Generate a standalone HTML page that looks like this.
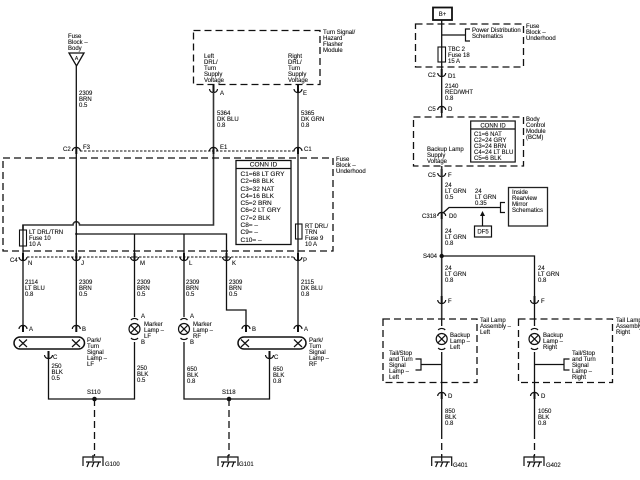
<!DOCTYPE html>
<html><head><meta charset="utf-8"><style>
html,body{margin:0;padding:0;background:#fff}
svg{display:block;filter:blur(.35px)}
text{font-family:"Liberation Sans",sans-serif;font-size:6px;fill:#111;stroke:#111;stroke-width:.12}
.b text{font-size:6.5px}
.w{fill:none;stroke:#111;stroke-width:1.3}
.g{fill:none;stroke:#333;stroke-width:1.6}
.t{fill:none;stroke:#111;stroke-width:1.3}
.d{fill:none;stroke:#111;stroke-width:1.3;stroke-dasharray:7 4}
.o{fill:none;stroke:#111;stroke-width:.9;stroke-dasharray:2.5 1.5}
.c{fill:none;stroke:#111;stroke-width:1.2}
</style></head><body>
<svg width="640" height="480" viewBox="0 0 640 480" xmlns="http://www.w3.org/2000/svg">
<defs>
<g id="cup" class="c"><path d="M-4-1A4 3.6 0 0 0 4-1"/><path d="M0-5V2" stroke-width="2"/></g>
<g id="arch" class="c"><path d="M-4 2A4 3.6 0 0 1 4 2"/><path d="M0-2V5" stroke-width="2"/></g>
<g id="lamp" class="c"><circle r="5.5" fill="#fff"/><path d="M-3.8-3.8L3.8 3.8M3.8-3.8L-3.8 3.8"/><path d="M-3.5-9A4 3 0 0 1 3.5-9M-3.5 9A4 3 0 0 0 3.5 9"/></g>
<g id="gnd" class="c"><path d="M-10 9V0H10V9" stroke-width="1.2"/><path d="M0-2V4M-7 5H8M-4 5L-6 10M1 5L-1 10M6 5L4 10"/></g>
</defs>

<!-- Left: Fuse Block - Body -->
<text x="68" y="38">Fuse</text><text x="68" y="44">Block –</text><text x="68" y="50">Body</text>
<path class="w" d="M69 53H84L76.5 66ZM76.3 66V150"/>
<text x="76" y="60" style="font-size:5px" text-anchor="middle" dx=".5">A</text>
<text x="79" y="95">2309</text><text x="79" y="101">BRN</text><text x="79" y="107">0.5</text>

<!-- Turn signal module -->
<rect class="d" x="193.5" y="30.5" width="126.5" height="54"/>
<text x="323" y="34">Turn Signal/</text><text x="323" y="40">Hazard</text><text x="323" y="46">Flasher</text><text x="323" y="52">Module</text>
<text x="204" y="58">Left</text><text x="204" y="64">DRL/</text><text x="204" y="70">Turn</text><text x="204" y="76">Supply</text><text x="204" y="82">Voltage</text>
<text x="288" y="58">Right</text><text x="288" y="64">DRL/</text><text x="288" y="70">Turn</text><text x="288" y="76">Supply</text><text x="288" y="82">Voltage</text>
<use href="#cup" x="213.5" y="90"/><use href="#cup" x="298" y="90"/>
<text x="220" y="95">A</text><text x="303" y="95">E</text>
<path class="g" d="M213.5 92V225H23V230"/>
<path class="t" d="M298 92V325"/>
<text x="217" y="115">5364</text><text x="217" y="121">DK BLU</text><text x="217" y="127">0.8</text>
<text x="301" y="115">5365</text><text x="301" y="121">DK GRN</text><text x="301" y="127">0.8</text>

<!-- C2 row -->
<path class="o" d="M80 151H295"/>
<use href="#arch" x="76.3" y="149"/><use href="#arch" x="213.5" y="149"/><use href="#arch" x="298" y="149"/>
<text x="63" y="151">C2</text><text x="83" y="149">F3</text><text x="220" y="149">E1</text><text x="304" y="151">C1</text>

<!-- Fuse block underhood -->
<rect class="d" x="3" y="158" width="330" height="93"/>
<text x="336" y="161">Fuse</text><text x="336" y="167">Block –</text><text x="336" y="173">Underhood</text>
<rect x="70" y="218" width="13" height="9" fill="#fff"/>
<path class="g" d="M70 225H73A3.3 3.3 0 0 1 79.6 225H83"/>
<path class="t" d="M76.3 150V325M76.3 234H226.5V310H246V326M134.5 234V317M184 234V317"/>
<circle cx="76.3" cy="234" r="1.2" fill="#111"/>
<path class="t" d="M23 225V325"/>
<rect x="19.5" y="230" width="7" height="16" fill="#fff" stroke="#111" stroke-width="1.1"/>
<path class="t" d="M23 230V246"/>
<text x="29" y="234">LT DRL/TRN</text><text x="29" y="240">Fuse 10</text><text x="29" y="246">10 A</text>
<rect x="295.5" y="224" width="6.5" height="15" fill="#fff" stroke="#111" stroke-width="1.1"/>
<path class="t" d="M298 224V239"/>
<text x="305" y="228">RT DRL/</text><text x="305" y="234">TRN</text><text x="305" y="240">Fuse 9</text><text x="305" y="246">10 A</text>

<rect x="236" y="160.5" width="55" height="84" fill="#fff" stroke="#111" stroke-width="1.3"/>
<path class="w" d="M236 168.5H291"/>
<g class="b">
<text x="263.5" y="166.5" text-anchor="middle">CONN ID</text>
<text x="240.5" y="176">C1=68 LT GRY</text><text x="240.5" y="183">C2=68 BLK</text><text x="240.5" y="191">C3=32 NAT</text><text x="240.5" y="198">C4=16 BLK</text><text x="240.5" y="205">C5=2 BRN</text><text x="240.5" y="212">C6=2 LT GRY</text><text x="240.5" y="220">C7=2 BLK</text><text x="240.5" y="227">C8= –</text><text x="240.5" y="234">C9= –</text><text x="240.5" y="242">C10= –</text>
</g>

<!-- C4 row -->
<path class="o" d="M27 257H295"/>
<use href="#cup" x="23" y="258"/><use href="#cup" x="76.3" y="258"/><use href="#cup" x="134.5" y="258"/><use href="#cup" x="184" y="258"/><use href="#cup" x="226.5" y="258"/><use href="#cup" x="298" y="258"/>
<text x="10" y="262">C4</text><text x="28" y="265">N</text><text x="81" y="265">J</text><text x="140" y="265">M</text><text x="189" y="265">L</text><text x="232" y="265">K</text><text x="303" y="262">P</text>

<text x="25" y="284">2114</text><text x="25" y="290">LT BLU</text><text x="25" y="296">0.8</text>
<text x="79" y="284">2309</text><text x="79" y="290">BRN</text><text x="79" y="296">0.5</text>
<text x="137" y="284">2309</text><text x="137" y="290">BRN</text><text x="137" y="296">0.5</text>
<text x="186" y="284">2309</text><text x="186" y="290">BRN</text><text x="186" y="296">0.5</text>
<text x="229" y="284">2309</text><text x="229" y="290">BRN</text><text x="229" y="296">0.5</text>
<text x="301" y="284">2115</text><text x="301" y="290">DK BLU</text><text x="301" y="296">0.8</text>

<!-- Lower left -->
<use href="#arch" x="23" y="327"/><use href="#arch" x="76.3" y="327"/><use href="#arch" x="246" y="327"/><use href="#arch" x="298" y="327"/>
<text x="29" y="331">A</text><text x="82" y="331">B</text><text x="252" y="331">B</text><text x="304" y="331">A</text>
<rect x="14" y="337" width="70.5" height="12" rx="6" fill="#fff" stroke="#111" stroke-width="1.5"/>
<rect x="238" y="337" width="68" height="12" rx="6" fill="#fff" stroke="#111" stroke-width="1.5"/>
<path class="c" d="M19 339.5L27 347M27 339.5L19 347M72 339.5L80 347M80 339.5L72 347M241 339.5L249 347M249 339.5L241 347M294 339.5L302 347M302 339.5L294 347" stroke-width="1.2"/>
<text x="87" y="342">Park/</text><text x="87" y="348">Turn</text><text x="87" y="354">Signal</text><text x="87" y="360">Lamp –</text><text x="87" y="366">LF</text>
<text x="309" y="342">Park/</text><text x="309" y="348">Turn</text><text x="309" y="354">Signal</text><text x="309" y="360">Lamp –</text><text x="309" y="366">RF</text>

<use href="#lamp" x="134.5" y="329"/><use href="#lamp" x="184" y="329"/>
<text x="141" y="318">A</text><text x="190" y="318">A</text><text x="141" y="344">B</text><text x="190" y="344">B</text>
<text x="144" y="326">Marker</text><text x="144" y="332">Lamp –</text><text x="144" y="338">LF</text>
<text x="193" y="326">Marker</text><text x="193" y="332">Lamp –</text><text x="193" y="338">RF</text>

<use href="#cup" x="48.5" y="356"/><use href="#cup" x="269.5" y="356"/>
<text x="53" y="359">C</text><text x="274" y="359">C</text>
<path class="t" d="M48.5 357V399H134.5V342M184 342V399H269.5V357"/>
<text x="51.5" y="368">250</text><text x="51.5" y="374">BLK</text><text x="51.5" y="380">0.5</text>
<text x="137" y="370">250</text><text x="137" y="376">BLK</text><text x="137" y="382">0.5</text>
<text x="187" y="371">650</text><text x="187" y="377">BLK</text><text x="187" y="383">0.8</text>
<text x="273" y="371">650</text><text x="273" y="377">BLK</text><text x="273" y="383">0.8</text>
<text x="87" y="394">S110</text><text x="222" y="394">S118</text>
<circle cx="94.5" cy="399" r="2.3" fill="#111"/><circle cx="229" cy="399" r="2.3" fill="#111"/>
<path class="d" d="M94.5 399V456M229 399V456"/>
<use href="#gnd" x="93" y="457"/><use href="#gnd" x="228" y="457"/>
<text x="105" y="466">G100</text><text x="239" y="466">G101</text>

<!-- Right: B+ -->
<rect x="433" y="7.5" width="19" height="12.5" fill="#fff" stroke="#111" stroke-width="1.8"/>
<text x="442.5" y="16" text-anchor="middle">B+</text>
<path class="t" d="M441.7 20V47M441.7 62V117M441.7 35H465"/>
<rect class="d" x="415.5" y="24" width="108" height="43"/>
<path class="c" d="M470 29H465.5V41H470"/>
<text x="472" y="32">Power Distribution</text><text x="472" y="38">Schematics</text>
<text x="526" y="28">Fuse</text><text x="526" y="34">Block –</text><text x="526" y="40">Underhood</text>
<rect x="438" y="47" width="7.5" height="15" fill="#fff" stroke="#111" stroke-width="1.1"/>
<path class="t" d="M441.7 47V62"/>
<text x="448" y="51">TBC 2</text><text x="448" y="57">Fuse 18</text><text x="448" y="63">15 A</text>
<use href="#cup" x="441.7" y="74"/>
<text x="428" y="77">C2</text><text x="448" y="78">D1</text>
<text x="445" y="88">2140</text><text x="445" y="94">RED/WHT</text><text x="445" y="100">0.8</text>
<use href="#arch" x="441.7" y="108"/>
<text x="428" y="111">C5</text><text x="448" y="111">D</text>

<!-- BCM -->
<rect class="d" x="413.5" y="117" width="110" height="49"/>
<text x="526" y="121">Body</text><text x="526" y="127">Control</text><text x="526" y="133">Module</text><text x="526" y="139">(BCM)</text>
<text x="427" y="151">Backup Lamp</text><text x="427" y="157">Supply</text><text x="427" y="163">Voltage</text>
<rect x="470.7" y="121" width="44.5" height="41" fill="#fff" stroke="#111" stroke-width="1.2"/>
<path class="c" d="M470.7 129H515"/>
<text x="493" y="127.5" text-anchor="middle">CONN ID</text>
<text x="474" y="136">C1=6 NAT</text><text x="474" y="142">C2=24 GRY</text><text x="474" y="148">C3=24 BRN</text><text x="474" y="154">C4=24 LT BLU</text><text x="474" y="160">C5=6 BLK</text>

<use href="#cup" x="441.7" y="174"/>
<text x="428" y="177">C5</text><text x="448" y="177">F</text>
<path class="g" d="M441.7 166V319"/>
<text x="445" y="187">24</text><text x="445" y="193">LT GRN</text><text x="445" y="199">0.5</text>
<text x="475" y="193">24</text><text x="475" y="199">LT GRN</text><text x="475" y="205">0.35</text>
<path class="t" d="M443 213L449 207.5H500"/>
<path class="c" d="M505 202.5H500.5V212.5H505"/>
<rect x="508.5" y="187.5" width="39" height="38.5" fill="#fff" stroke="#222" stroke-width="1.3"/>
<text x="512" y="194">Inside</text><text x="512" y="200">Rearview</text><text x="512" y="206">Mirror</text><text x="512" y="212">Schematics</text>
<path class="c" d="M482.5 226V214"/><path d="M482.5 211L480 216H485Z" fill="#111"/>
<rect x="474.5" y="226" width="17" height="11" fill="#fff" stroke="#111" stroke-width="1.2"/>
<text x="483" y="233.5" text-anchor="middle">DF5</text>
<use href="#arch" x="441.7" y="214"/>
<text x="422" y="218">C318</text><text x="449" y="218">D0</text>
<text x="445" y="233">24</text><text x="445" y="239">LT GRN</text><text x="445" y="245">0.8</text>
<circle cx="441.7" cy="256" r="2.2" fill="#111"/>
<text x="423" y="258">S404</text>
<path class="t" d="M441.7 256H534.5V319"/>
<text x="445" y="270">24</text><text x="445" y="276">LT GRN</text><text x="445" y="282">0.8</text>
<text x="538" y="270">24</text><text x="538" y="276">LT GRN</text><text x="538" y="282">0.8</text>
<use href="#cup" x="441.7" y="301"/><use href="#cup" x="534.5" y="301"/>
<text x="448" y="303">F</text><text x="541" y="303">F</text>

<!-- Tail lamps -->
<rect class="d" x="383" y="319" width="94" height="63.5"/>
<rect class="d" x="518.5" y="319" width="94" height="63.5"/>
<text x="480" y="322">Tail Lamp</text><text x="480" y="328">Assembly –</text><text x="480" y="334">Left</text>
<text x="616" y="322">Tail Lamp</text><text x="616" y="328">Assembly –</text><text x="616" y="334">Right</text>
<path class="t" d="M441.7 319V326M534.5 319V326M441.7 352V432M534.5 352V432M441.7 364.5H421M534.5 364.5H564"/>
<use href="#lamp" x="441.7" y="339"/><use href="#lamp" x="534.5" y="339"/>
<text x="450" y="337">Backup</text><text x="450" y="343">Lamp –</text><text x="450" y="349">Left</text>
<text x="543" y="337">Backup</text><text x="543" y="343">Lamp –</text><text x="543" y="349">Right</text>
<path class="c" d="M415.5 359H421V370H415.5M569.5 359H564V370H569.5"/>
<text x="389" y="355">Tail/Stop</text><text x="389" y="361">and Turn</text><text x="389" y="367">Signal</text><text x="389" y="373">Lamp –</text><text x="389" y="379">Left</text>
<text x="572" y="355">Tail/Stop</text><text x="572" y="361">and Turn</text><text x="572" y="367">Signal</text><text x="572" y="373">Lamp –</text><text x="572" y="379">Right</text>
<use href="#arch" x="441.7" y="394"/><use href="#arch" x="534.5" y="394"/>
<text x="448" y="398">D</text><text x="541" y="398">D</text>
<text x="445" y="413">850</text><text x="445" y="419">BLK</text><text x="445" y="425">0.8</text>
<text x="538" y="413">1050</text><text x="538" y="419">BLK</text><text x="538" y="425">0.8</text>
<path class="d" d="M441.7 432V456M534.5 432V456" stroke-dasharray="7 5"/>
<use href="#gnd" x="441.7" y="457"/><use href="#gnd" x="534" y="457"/>
<text x="453" y="467">G401</text><text x="546" y="467">G402</text>
</svg>
</body></html>
